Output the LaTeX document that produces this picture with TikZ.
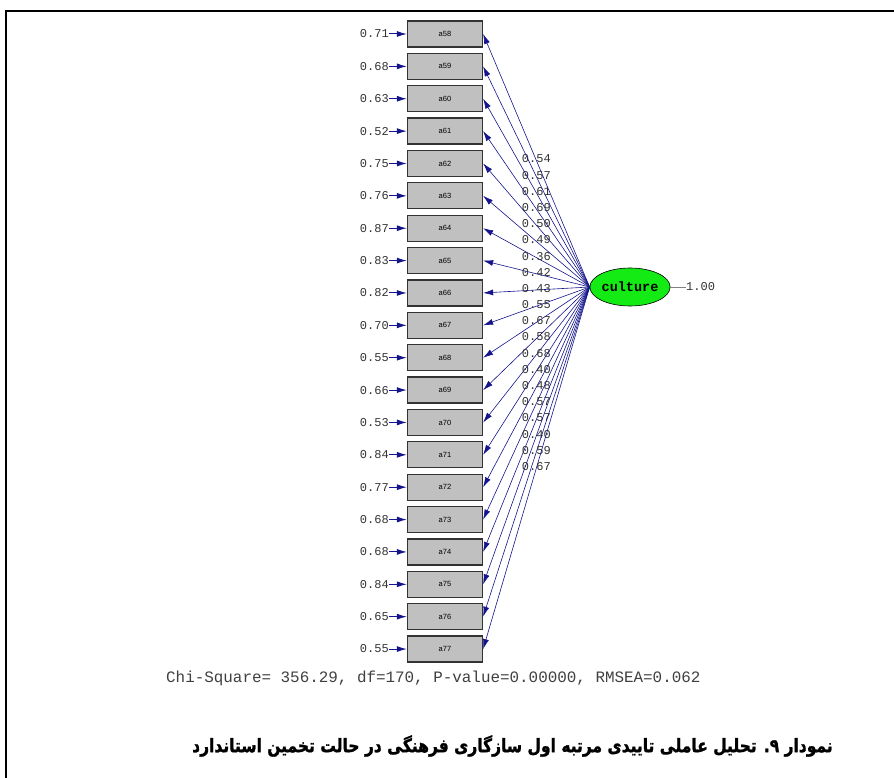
\documentclass[tikz,border=0pt]{standalone}
\usepackage{fontspec}
\setmainfont{Liberation Serif}
\newfontfamily\monof{Liberation Mono}
\newfontfamily\boxf{Liberation Sans}
\newfontfamily\arabicfont[Script=Arabic,BoldFont={DejaVu Sans Bold},BoldFeatures={FakeBold=1.5}]{DejaVu Sans}
\TeXXeTstate=1
\usetikzlibrary{arrows.meta,shapes.geometric}
\definecolor{navyc}{RGB}{20,20,140}
\definecolor{boxgray}{RGB}{192,192,192}
\definecolor{lgreen}{RGB}{20,235,20}
\tikzset{
  itembox/.style={draw=black!80, line width=1.3pt, fill=boxgray, minimum width=75pt, minimum height=26pt, inner sep=0pt, font=\boxf\fontsize{7.5}{8}\selectfont},
  errlab/.style={font=\monof\fontsize{12}{14}\selectfont, text=black!80, inner sep=0pt},
  loadlab/.style={font=\monof\fontsize{12}{14}\selectfont, text=black!80, inner sep=0pt},
  errarrow/.style={draw=navyc, line width=1pt, -{Latex[length=10pt,width=6pt]}},
  loadarrow/.style={draw=navyc, line width=0.6pt, -{Latex[length=10pt,width=6pt]}},
  latent/.style={ellipse, draw=black, line width=0.6pt, fill=lgreen, minimum width=74pt, minimum height=38pt, inner sep=0pt, font=\monof\bfseries\fontsize{13.5}{15}\selectfont}
}
\begin{document}
\begin{tikzpicture}[x=1pt,y=-1pt]
\useasboundingbox (0,0) rectangle (894,778);
\draw[line width=2pt] (6,778) -- (6,11) -- (894,11);

\node[latent] (cult) at (630,287) {culture};
\node[loadlab, anchor=west] (one) at (686,287) {1.00};
\draw[black!50, line width=0.6pt] (cult.east) -- (one.west);

\foreach [count=\i from 0] \n/\e/\l in {58/0.71/0.54, 59/0.68/0.57, 60/0.63/0.61, 61/0.52/0.69, 62/0.75/0.50, 63/0.76/0.49, 64/0.87/0.36, 65/0.83/0.42, 66/0.82/0.43, 67/0.70/0.55, 68/0.55/0.67, 69/0.66/0.58, 70/0.53/0.68, 71/0.84/0.40, 72/0.77/0.48, 73/0.68/0.57, 74/0.68/0.57, 75/0.84/0.40, 76/0.65/0.59, 77/0.55/0.67} {
  \pgfmathsetmacro\yy{34+32.37*\i}
  \node[itembox] (a\n) at (445,\yy) {a\n};
  \node[errlab, anchor=east] (e\n) at (389,\yy) {\e};
  \draw[errarrow] (e\n.east) -- (a\n.west);
  \draw[loadarrow] (cult.west) -- node[loadlab, yshift=1.5pt] (l\n) {\l} (a\n.east);
}

\node[font=\monof\fontsize{15.9}{18}\selectfont, text=black!75, anchor=west, inner sep=0pt] (chi) at (166,678) {Chi-Square= 356.29, df=170, P-value=0.00000, RMSEA=0.062};

\node[anchor=east, inner sep=0pt] (cap) at (833,746) {\scalebox{1}[1.2]{\arabicfont\bfseries\fontsize{15.5}{19}\selectfont\beginR نمودار ۹. تحلیل عاملی تاییدی مرتبه اول سازگاری فرهنگی در حالت تخمین استاندارد\endR}};
\end{tikzpicture}
\end{document}
